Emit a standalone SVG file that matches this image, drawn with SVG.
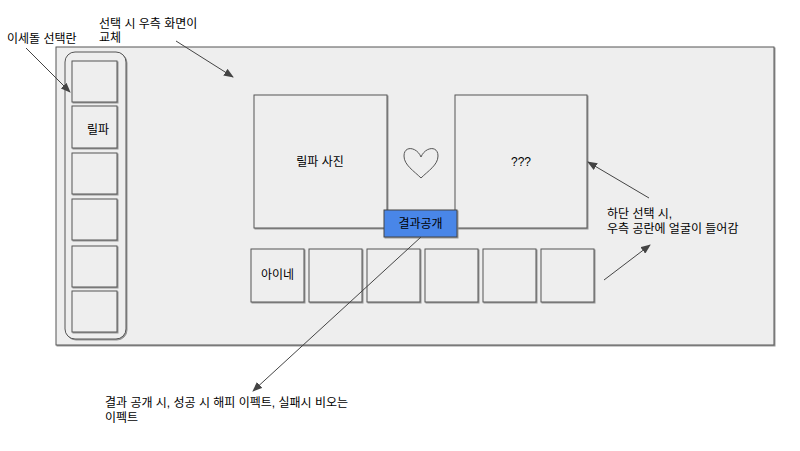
<svg xmlns="http://www.w3.org/2000/svg" width="800" height="451" viewBox="0 0 800 451">
<defs>
<style>
.t{font-family:"Liberation Sans","Noto Sans CJK KR",sans-serif;font-size:12px;fill:#000}
.box{fill:#eeeeee;stroke:#555555;stroke-width:1;filter:url(#sh)}
.ln{stroke:#444444;stroke-width:1;fill:none;marker-end:url(#ah)}
</style>
<filter id="sh" x="-5%" y="-5%" width="110%" height="110%">
<feDropShadow dx="1" dy="1" stdDeviation="0.4" flood-color="#8a8a8a" flood-opacity="0.9"/>
</filter>
<marker id="ah" markerWidth="10" markerHeight="8" refX="9" refY="4" orient="auto" markerUnits="userSpaceOnUse">
<path d="M0,0 L10,4 L0,8 Z" fill="#444444"/>
</marker>
</defs>
<rect width="800" height="451" fill="#ffffff"/>
<g id="main"><rect class="box" x="56" y="47" width="718" height="298"/></g>
<g id="left-panel"><rect class="box" x="65" y="52" width="61" height="287" rx="10" ry="10"/></g>
<g id="left-slot-1"><rect class="box" x="72" y="61" width="45" height="41"/></g>
<g id="left-slot-2"><rect class="box" x="72" y="106" width="45" height="42"/><text class="t" x="87" y="134">릴파</text></g>
<g id="left-slot-3"><rect class="box" x="72" y="153" width="45" height="41"/></g>
<g id="left-slot-4"><rect class="box" x="72" y="199" width="45" height="41"/></g>
<g id="left-slot-5"><rect class="box" x="72" y="246" width="45" height="41"/></g>
<g id="left-slot-6"><rect class="box" x="72" y="291" width="45" height="41"/></g>
<g id="photo-left"><rect class="box" x="254" y="95" width="133" height="133"/><text class="t" x="320" y="166" text-anchor="middle">릴파 사진</text></g>
<g id="photo-right"><rect class="box" x="455" y="95" width="132" height="133"/><text class="t" x="521" y="166" text-anchor="middle">???</text></g>
<g id="heart"><path d="M421,157 C417,147 404,145 404,156 C404,165 414,171 421,178 C428,171 438,165 438,156 C438,145 425,147 421,157 Z" fill="none" stroke="#555555" stroke-width="1"/></g>
<g id="reveal-button"><rect x="384" y="210" width="73" height="27" fill="#4a86e8" stroke="#444444" stroke-width="1" filter="url(#sh)"/><text class="t" x="420.5" y="228" text-anchor="middle">결과공개</text></g>
<g id="bottom-slot-1"><rect class="box" x="251" y="249" width="53" height="53"/><text class="t" x="277.5" y="279" text-anchor="middle">아이네</text></g>
<g id="bottom-slot-2"><rect class="box" x="309" y="249" width="53" height="53"/></g>
<g id="bottom-slot-3"><rect class="box" x="367" y="249" width="53" height="53"/></g>
<g id="bottom-slot-4"><rect class="box" x="425" y="249" width="53" height="53"/></g>
<g id="bottom-slot-5"><rect class="box" x="483" y="249" width="53" height="53"/></g>
<g id="bottom-slot-6"><rect class="box" x="541" y="249" width="53" height="53"/></g>
<g id="connectors">
<line class="ln" x1="26" y1="48" x2="70" y2="92"/>
<line class="ln" x1="176" y1="41" x2="233" y2="77"/>
<line class="ln" x1="649" y1="198" x2="588" y2="162"/>
<line class="ln" x1="604" y1="280" x2="650" y2="245"/>
<line class="ln" x1="421" y1="237" x2="253" y2="391"/>
</g>
<g id="labels">
<text class="t" x="7" y="43">이세돌 선택란</text>
<text class="t" x="99" y="28">선택 시 우측 화면이</text>
<text class="t" x="99" y="42">교체</text>
<text class="t" x="607" y="218">하단 선택 시,</text>
<text class="t" x="607" y="233">우측 공란에 얼굴이 들어감</text>
<text class="t" x="105" y="407">결과 공개 시, 성공 시 해피 이펙트, 실패시 비오는</text>
<text class="t" x="105" y="422">이펙트</text>
</g>
</svg>
